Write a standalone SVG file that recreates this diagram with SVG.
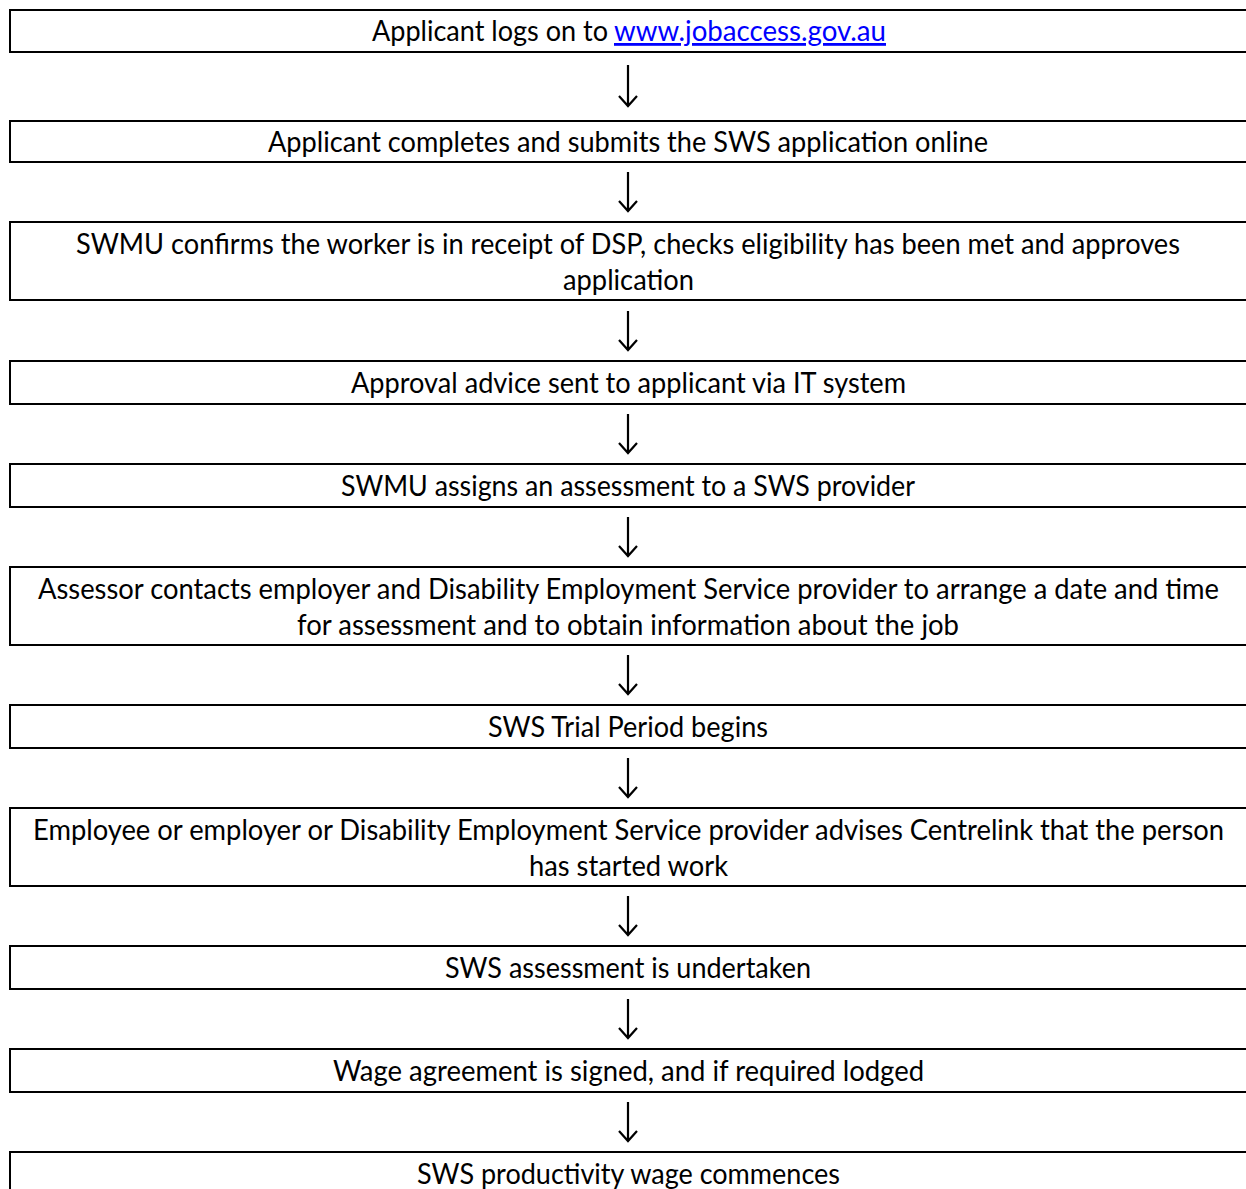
<svg xmlns="http://www.w3.org/2000/svg" width="1246" height="1189" viewBox="0 0 1246 1189">
<style>
.box{fill:#fff;stroke:#000;stroke-width:2}
.t{font-family:Lato,"Open Sans","Liberation Sans",sans-serif;font-size:28px;fill:#000;text-anchor:middle}
.s{text-anchor:start}
.link{fill:#0000ff;text-decoration:underline}
.arrow{fill:none;stroke:#000;stroke-width:2.2}
</style>
<rect width="1246" height="1189" fill="#fff"/>
<g id="connectors">
<path class="arrow" d="M628 65V106M619 96L628 106L637 96"/>
<path class="arrow" d="M628 172V211M619 201L628 211L637 201"/>
<path class="arrow" d="M628 311V350M619 340L628 350L637 340"/>
<path class="arrow" d="M628 414V453M619 443L628 453L637 443"/>
<path class="arrow" d="M628 517V556M619 546L628 556L637 546"/>
<path class="arrow" d="M628 655V694M619 684L628 694L637 684"/>
<path class="arrow" d="M628 758V797M619 787L628 797L637 787"/>
<path class="arrow" d="M628 896V935M619 925L628 935L637 925"/>
<path class="arrow" d="M628 999V1038M619 1028L628 1038L637 1028"/>
<path class="arrow" d="M628 1102V1141M619 1131L628 1141L637 1131"/>
</g>
<g id="n1"><rect class="box" x="10" y="10" width="1250" height="42"/>
<text class="t s" x="372" y="41" textLength="236" lengthAdjust="spacingAndGlyphs">Applicant logs on to</text>
<text class="t s link" x="614" y="41" textLength="272" lengthAdjust="spacingAndGlyphs">www.jobaccess.gov.au</text></g>
<g id="n2"><rect class="box" x="10" y="121" width="1250" height="41"/>
<text class="t" x="628" y="152" textLength="720" lengthAdjust="spacingAndGlyphs">Applicant completes and submits the SWS application online</text></g>
<g id="n3"><rect class="box" x="10" y="222" width="1250" height="78"/>
<text class="t" x="628" y="254" textLength="1104" lengthAdjust="spacingAndGlyphs">SWMU confirms the worker is in receipt of DSP, checks eligibility has been met and approves</text>
<text class="t" x="628.5" y="290" textLength="131" lengthAdjust="spacingAndGlyphs">application</text></g>
<g id="n4"><rect class="box" x="10" y="361" width="1250" height="43"/>
<text class="t" x="628.5" y="393" textLength="555" lengthAdjust="spacingAndGlyphs">Approval advice sent to applicant via IT system</text></g>
<g id="n5"><rect class="box" x="10" y="464" width="1250" height="43"/>
<text class="t" x="628" y="496" textLength="574" lengthAdjust="spacingAndGlyphs">SWMU assigns an assessment to a SWS provider</text></g>
<g id="n6"><rect class="box" x="10" y="567" width="1250" height="78"/>
<text class="t" x="628.5" y="599" textLength="1181" lengthAdjust="spacingAndGlyphs">Assessor contacts employer and Disability Employment Service provider to arrange a date and time</text>
<text class="t" x="628" y="635" textLength="662" lengthAdjust="spacingAndGlyphs">for assessment and to obtain information about the job</text></g>
<g id="n7"><rect class="box" x="10" y="705" width="1250" height="43"/>
<text class="t" x="628" y="737" textLength="280" lengthAdjust="spacingAndGlyphs">SWS Trial Period begins</text></g>
<g id="n8"><rect class="box" x="10" y="808" width="1250" height="78"/>
<text class="t" x="628.5" y="840" textLength="1191" lengthAdjust="spacingAndGlyphs">Employee or employer or Disability Employment Service provider advises Centrelink that the person</text>
<text class="t" x="628.5" y="876" textLength="199" lengthAdjust="spacingAndGlyphs">has started work</text></g>
<g id="n9"><rect class="box" x="10" y="946" width="1250" height="43"/>
<text class="t" x="628" y="978" textLength="366" lengthAdjust="spacingAndGlyphs">SWS assessment is undertaken</text></g>
<g id="n10"><rect class="box" x="10" y="1049" width="1250" height="43"/>
<text class="t" x="628.5" y="1081" textLength="591" lengthAdjust="spacingAndGlyphs">Wage agreement is signed, and if required lodged</text></g>
<g id="n11"><rect class="box" x="10" y="1152" width="1250" height="60"/>
<text class="t" x="628.5" y="1184" textLength="423" lengthAdjust="spacingAndGlyphs">SWS productivity wage commences</text></g>
</svg>
